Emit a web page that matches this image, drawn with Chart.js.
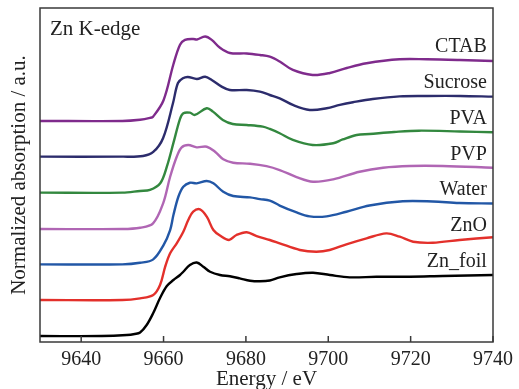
<!DOCTYPE html>
<html>
<head>
<meta charset="utf-8">
<script src="https://cdn.jsdelivr.net/npm/chart.js@4.4.1/dist/chart.umd.min.js"></script>
<style>
  html, body { margin: 0; padding: 0; background: #fff; }
</style>
</head>
<body>
<canvas id="xanes" width="519" height="389"></canvas>
<script>
// Normalized Zn K-edge XANES (before vertical stacking)
const foilE  = [9630, 9645, 9651.1, 9653, 9654.3, 9655.9, 9657.5, 9659.15, 9660.8, 9662.4, 9664.0, 9664.8, 9666.4, 9668.05, 9669.65, 9671.3, 9673.7, 9676.1, 9678.5, 9681.0, 9683.4, 9685.8, 9688.2, 9692.3, 9696.3, 9700.4, 9705.2, 9711.7, 9719.8, 9727.8, 9740];
const foilMu = [0, 0, 0.016, 0.033, 0.057, 0.18, 0.377, 0.623, 0.82, 0.918, 1.0, 1.054, 1.164, 1.205, 1.136, 1.054, 1.0, 0.979, 0.946, 0.907, 0.897, 0.91, 0.962, 1.016, 1.038, 1.0, 0.962, 0.972, 0.972, 0.984, 1.0];

const znoE  = [9630, 9650, 9654.3, 9657.5, 9659.15, 9660.4, 9661.6, 9663.2, 9664.8, 9666.0, 9667.2, 9668.85, 9670.5, 9672.1, 9673.7, 9675.9, 9677.7, 9680.2, 9682.6, 9685.8, 9688.2, 9693.1, 9697.1, 9700.35, 9704.4, 9709.3, 9714.1, 9717.35, 9720.6, 9725.4, 9731.9, 9740];
const znoMu = [0, 0, 0.028, 0.082, 0.246, 0.546, 0.766, 0.93, 1.12, 1.311, 1.448, 1.487, 1.366, 1.148, 1.057, 0.984, 1.066, 1.112, 1.049, 0.984, 0.93, 0.82, 0.792, 0.82, 0.913, 1.011, 1.093, 1.038, 0.956, 0.939, 0.984, 1.03];

const waterE  = [9630, 9650, 9654.3, 9657.5, 9660.0, 9661.6, 9662.4, 9663.6, 9664.8, 9666.4, 9668.05, 9670.5, 9672.1, 9674.5, 9676.9, 9681.0, 9683.4, 9685.8, 9688.2, 9692.0, 9695.5, 9699.6, 9704.4, 9710.0, 9718.1, 9725.4, 9731.8, 9740];
const waterMu = [0, 0, 0.026, 0.082, 0.316, 0.562, 0.808, 1.108, 1.272, 1.338, 1.328, 1.366, 1.328, 1.19, 1.12, 1.098, 1.07, 1.046, 0.964, 0.86, 0.787, 0.787, 0.862, 0.964, 1.034, 1.03, 1.005, 0.997];

const pvpE  = [9630, 9650, 9654.3, 9657.45, 9659.9, 9661.6, 9663.2, 9664.4, 9666.0, 9668.05, 9670.5, 9672.5, 9674.5, 9676.9, 9681.0, 9685.0, 9688.2, 9692.3, 9696.3, 9701.2, 9707.6, 9713.3, 9719.8, 9727.8, 9740];
const pvpMu = [0, 0, 0.021, 0.093, 0.421, 0.857, 1.185, 1.339, 1.377, 1.339, 1.349, 1.267, 1.143, 1.087, 1.07, 1.03, 0.967, 0.852, 0.775, 0.815, 0.939, 1.005, 1.033, 1.033, 1.005];

const pvaE  = [9630, 9650, 9654.3, 9656.7, 9659.2, 9660.8, 9662.4, 9664.0, 9664.8, 9666.4, 9667.6, 9670.5, 9672.0, 9674.4, 9676.8, 9680.2, 9684.1, 9685.8, 9688.2, 9691.4, 9696.2, 9701.2, 9703.5, 9706.9, 9710, 9716, 9722, 9732, 9740];
const pvaMu = [0, 0, 0.028, 0.044, 0.154, 0.426, 0.815, 1.21, 1.302, 1.311, 1.274, 1.384, 1.328, 1.192, 1.126, 1.11, 1.082, 1.044, 0.974, 0.864, 0.782, 0.81, 0.872, 0.946, 0.962, 0.995, 1.016, 1.003, 0.99];

const sucroseE  = [9630, 9650, 9655, 9657.5, 9659.9, 9662.3, 9663.5, 9664.7, 9665.9, 9668.1, 9670.1, 9671.7, 9674.1, 9676.1, 9680.2, 9683.4, 9685.8, 9688.2, 9691.4, 9695.5, 9699.6, 9702.8, 9706.0, 9710.8, 9717.3, 9724, 9732, 9740];
const sucroseMu = [0, 0, 0.011, 0.077, 0.307, 0.88, 1.208, 1.285, 1.307, 1.274, 1.311, 1.257, 1.148, 1.093, 1.093, 1.066, 1.011, 0.957, 0.848, 0.766, 0.793, 0.848, 0.892, 0.946, 0.989, 0.995, 0.995, 0.984];

const ctabE  = [9630, 9650, 9654.3, 9656.7, 9657.45, 9660.0, 9662.4, 9664.0, 9665.2, 9667.2, 9668.1, 9670.1, 9671.7, 9673.7, 9676.1, 9680.2, 9683.4, 9685.8, 9688.2, 9691.4, 9696.2, 9700.4, 9704.5, 9709.3, 9717.3, 9723.9, 9731.9, 9740];
const ctabMu = [0, 0, 0.02, 0.05, 0.07, 0.34, 0.93, 1.25, 1.33, 1.345, 1.335, 1.385, 1.33, 1.2, 1.115, 1.107, 1.082, 1.054, 0.975, 0.836, 0.754, 0.787, 0.869, 0.946, 1.011, 1.011, 1.0, 0.984];

const seriesNames   = ['Zn_foil', 'ZnO', 'Water', 'PVP', 'PVA', 'Sucrose', 'CTAB'];
const seriesEnergy  = [foilE, znoE, waterE, pvpE, pvaE, sucroseE, ctabE];
const seriesMu      = [foilMu, znoMu, waterMu, pvpMu, pvaMu, sucroseMu, ctabMu];
const seriesOffsets = [0, 0.59, 1.175, 1.754, 2.35, 2.94, 3.525];
const seriesColors  = ['#000000', '#e3302b', '#2257a6', '#b066b4', '#33883f', '#2c2c6c', '#7f2b8c'];

const xTicks = [9640, 9660, 9680, 9700, 9720, 9740];

const SERIF = '"Liberation Serif", "Times New Roman", serif';
const LABEL_LIFT = 1.13;   // label baseline above each trace's own zero
const LABEL_E = 9738.5;

const datasets = seriesNames.map((name, i) => ({
  label: name,
  data: seriesEnergy[i].map((e, k) => ({ x: e, y: seriesMu[i][k] + seriesOffsets[i] })),
  borderColor: seriesColors[i],
  borderWidth: 2.4,
  pointRadius: 0,
  fill: false,
  tension: 0.35
}));

// frame, inward ticks and text labels
const framePlugin = {
  id: 'frame',
  afterDatasetsDraw(chart) {
    const { ctx, chartArea: a, scales } = chart;
    ctx.save();
    ctx.strokeStyle = '#3a3a3a';
    ctx.lineWidth = 1.5;
    ctx.strokeRect(a.left, a.top, a.right - a.left, a.bottom - a.top);

    scales.x.ticks.forEach(t => {
      const px = scales.x.getPixelForValue(t.value);
      ctx.beginPath();
      ctx.moveTo(px, a.bottom);
      ctx.lineTo(px, a.bottom - 6);
      ctx.stroke();
    });

    ctx.fillStyle = '#222';
    ctx.font = '20px ' + SERIF;
    ctx.textAlign = 'right';
    ctx.textBaseline = 'alphabetic';
    seriesNames.forEach((name, i) => {
      ctx.fillText(name, scales.x.getPixelForValue(LABEL_E),
        scales.y.getPixelForValue(seriesOffsets[i] + LABEL_LIFT));
    });

    ctx.textAlign = 'left';
    ctx.font = '21px ' + SERIF;
    ctx.fillText('Zn K-edge', a.left + 10, a.top + 27);
    ctx.restore();
  }
};

new Chart(document.getElementById('xanes'), {
  type: 'line',
  data: { datasets },
  options: {
    responsive: false,
    animation: false,
    devicePixelRatio: 1,
    layout: { padding: { top: 8, right: 26, left: 0, bottom: 0 } },
    plugins: { legend: { display: false }, tooltip: { enabled: false } },
    scales: {
      x: {
        type: 'linear',
        min: 9630,
        max: 9740,
        grid: { display: false, drawTicks: false },
        border: { display: false },
        afterBuildTicks: s => { s.ticks = xTicks.map(v => ({ value: v })); },
        afterFit: s => { s.height = 47; },
        ticks: {
          autoSkip: false,
          maxRotation: 0,
          padding: 6,
          color: '#222',
          font: { family: SERIF, size: 20 },
          callback: v => String(v)
        },
        title: {
          display: true,
          text: 'Energy / eV',
          color: '#222',
          padding: { top: 0, bottom: -1 },
          font: { family: SERIF, size: 21, lineHeight: 1 }
        }
      },
      y: {
        min: -0.098,
        max: 5.377,
        grid: { display: false, drawTicks: false },
        border: { display: false },
        ticks: { display: false },
        afterFit: s => { s.width = 40; },
        title: {
          display: true,
          text: 'Normalized absorption / a.u.',
          color: '#222',
          padding: { top: 7, bottom: 0 },
          font: { family: SERIF, size: 21 }
        }
      }
    }
  },
  plugins: [framePlugin]
});
</script>
</body>
</html>
